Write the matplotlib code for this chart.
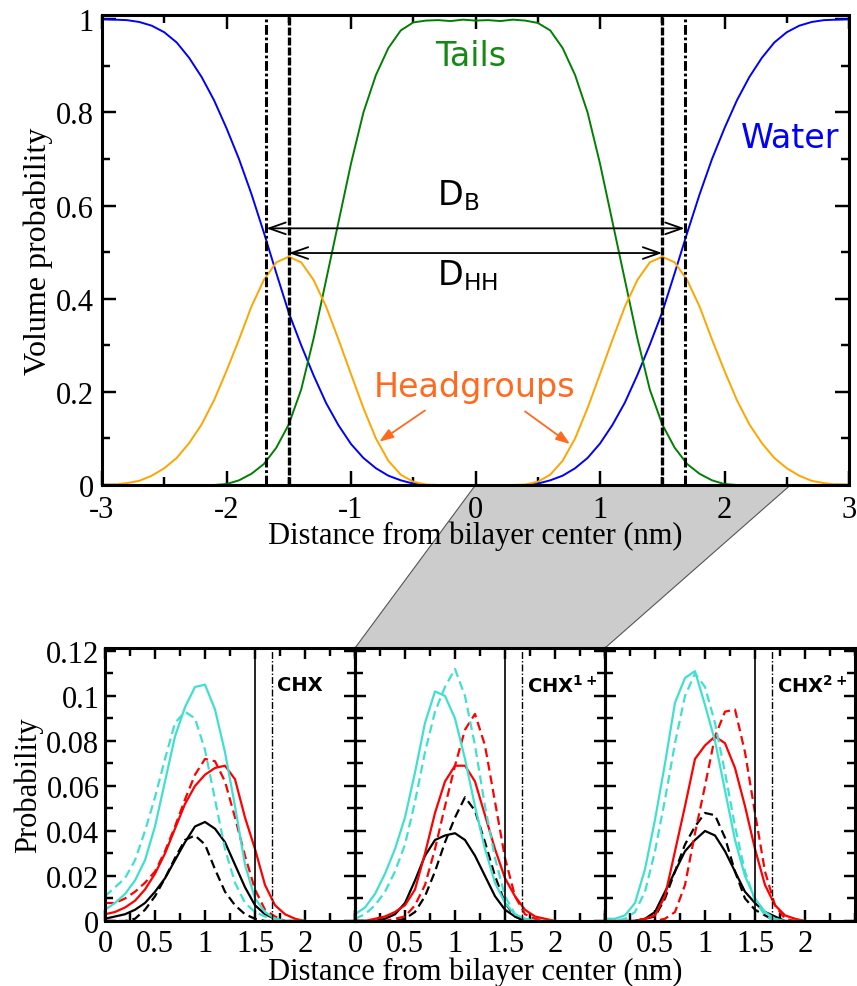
import numpy as np
import matplotlib
matplotlib.use("Agg")
import matplotlib.pyplot as plt
from matplotlib.patches import Polygon
from matplotlib.ticker import MultipleLocator, FuncFormatter

plt.rcParams["font.family"] = ["Liberation Serif", "DejaVu Serif"]
plt.rcParams["mathtext.fontset"] = "dejavusans"
plt.rcParams["axes.unicode_minus"] = False

# ---------------- density profile across the bilayer ----------------
x_profile = np.round(np.arange(-30, 31) * 0.1, 1)

water = [1.000, 0.999, 0.998, 0.994, 0.986, 0.972, 0.950, 0.917, 0.876, 0.826,
         0.766, 0.700, 0.625, 0.542, 0.455, 0.370, 0.300, 0.235, 0.176, 0.128,
         0.088, 0.058, 0.036, 0.020, 0.010, 0.003, 0.000, 0.000, 0.000, 0.000,
         0.000,
         0.000, 0.000, 0.000, 0.000, 0.003, 0.010, 0.020, 0.036, 0.058, 0.089,
         0.129, 0.177, 0.236, 0.301, 0.371, 0.455, 0.541, 0.624, 0.700, 0.766,
         0.826, 0.876, 0.917, 0.950, 0.972, 0.986, 0.994, 0.998, 0.999, 1.000]

tails = [0.000, 0.000, 0.000, 0.000, 0.000, 0.000, 0.000, 0.000, 0.000, 0.000,
         0.002, 0.010, 0.024, 0.045, 0.080, 0.130, 0.205, 0.315, 0.440, 0.565,
         0.690, 0.800, 0.880, 0.938, 0.976, 0.993, 0.997, 0.998, 0.996, 0.999,
         0.997,
         0.998, 0.996, 0.999, 0.997, 0.992, 0.976, 0.938, 0.880, 0.800, 0.690,
         0.565, 0.440, 0.315, 0.205, 0.130, 0.080, 0.045, 0.024, 0.010, 0.002,
         0.000, 0.000, 0.000, 0.000, 0.000, 0.000, 0.000, 0.000, 0.000, 0.000]

headgroups = [0.000, 0.001, 0.004, 0.009, 0.020, 0.036, 0.058, 0.090, 0.130, 0.182,
              0.245, 0.312, 0.383, 0.440, 0.478, 0.490, 0.478, 0.440, 0.383, 0.312,
              0.238, 0.165, 0.100, 0.052, 0.022, 0.007, 0.001, 0.000, 0.000, 0.000,
              0.000,
              0.000, 0.000, 0.000, 0.001, 0.007, 0.022, 0.052, 0.100, 0.165, 0.238,
              0.312, 0.383, 0.440, 0.478, 0.490, 0.478, 0.440, 0.383, 0.312, 0.245,
              0.182, 0.130, 0.090, 0.058, 0.036, 0.020, 0.009, 0.004, 0.001, 0.000]

d_hh_half = 1.5     # headgroup peak position (nm)
d_b_half = 1.68     # bilayer boundary (nm)
y_db = 0.551
y_dhh = 0.498

# ---------------- CHX distributions (0 - 2 nm) ----------------
x_zoom = np.round(np.arange(0, 21) * 0.1, 1)

panel_labels = ["CHX", r"CHX$^{\mathbf{1+}}$", r"CHX$^{\mathbf{2+}}$"]

cyan_solid = [
    [0.005, 0.008, 0.012, 0.018, 0.027, 0.042, 0.062, 0.082, 0.095, 0.104, 0.105,
     0.094, 0.075, 0.051, 0.025, 0.010, 0.004, 0.001, 0, 0, 0],
    [0.003, 0.006, 0.012, 0.021, 0.032, 0.046, 0.066, 0.088, 0.102, 0.100, 0.090,
     0.072, 0.051, 0.032, 0.017, 0.008, 0.003, 0.001, 0, 0, 0],
    [0.001, 0.001, 0.0025, 0.008, 0.023, 0.045, 0.070, 0.097, 0.108, 0.111, 0.096,
     0.080, 0.058, 0.036, 0.020, 0.010, 0.004, 0.001, 0, 0, 0],
]
cyan_dash = [
    [0.011, 0.015, 0.019, 0.027, 0.040, 0.055, 0.072, 0.088, 0.093, 0.090, 0.076,
     0.054, 0.032, 0.017, 0.008, 0.004, 0.002, 0.001, 0, 0, 0],
    [0.001, 0.003, 0.007, 0.013, 0.022, 0.034, 0.053, 0.075, 0.093, 0.104, 0.112,
     0.100, 0.078, 0.051, 0.028, 0.011, 0.003, 0.001, 0, 0, 0],
    [0, 0, 0.001, 0.004, 0.013, 0.031, 0.054, 0.079, 0.100, 0.110, 0.104,
     0.088, 0.066, 0.042, 0.022, 0.009, 0.0025, 0, 0, 0, 0],
]
red_solid = [
    [0.003, 0.004, 0.006, 0.009, 0.014, 0.021, 0.030, 0.041, 0.052, 0.060, 0.065,
     0.068, 0.069, 0.063, 0.046, 0.032, 0.016, 0.007, 0.003, 0.001, 0],
    [0, 0, 0.001, 0.002, 0.004, 0.007, 0.014, 0.030, 0.048, 0.062, 0.069,
     0.069, 0.062, 0.047, 0.032, 0.019, 0.011, 0.005, 0.002, 0.001, 0],
    [0, 0, 0, 0, 0.001, 0.0025, 0.011, 0.031, 0.051, 0.072, 0.078,
     0.082, 0.079, 0.068, 0.051, 0.032, 0.016, 0.007, 0.0025, 0.001, 0],
]
red_dash = [
    [0.008, 0.008, 0.010, 0.013, 0.017, 0.022, 0.031, 0.042, 0.054, 0.065, 0.072,
     0.071, 0.062, 0.046, 0.029, 0.014, 0.005, 0.002, 0, 0, 0],
    [0, 0, 0, 0, 0.001, 0.002, 0.007, 0.016, 0.032, 0.051, 0.069,
     0.085, 0.092, 0.078, 0.053, 0.028, 0.011, 0.003, 0.001, 0, 0],
    [0, 0, 0, 0, 0, 0, 0.001, 0.004, 0.016, 0.039, 0.060,
     0.082, 0.093, 0.094, 0.075, 0.048, 0.022, 0.007, 0.001, 0, 0],
]
black_solid = [
    [0.001, 0.002, 0.003, 0.005, 0.008, 0.013, 0.019, 0.027, 0.035, 0.042, 0.044,
     0.041, 0.035, 0.025, 0.015, 0.007, 0.003, 0.001, 0, 0, 0],
    [0, 0, 0, 0.001, 0.003, 0.008, 0.018, 0.029, 0.036, 0.038, 0.039,
     0.036, 0.029, 0.020, 0.011, 0.005, 0.002, 0, 0, 0, 0],
    [0, 0, 0, 0, 0.001, 0.004, 0.013, 0.022, 0.031, 0.036, 0.040,
     0.038, 0.031, 0.022, 0.013, 0.008, 0.004, 0.002, 0, 0, 0],
]
black_dash = [
    [0, 0, 0, 0.001, 0.005, 0.011, 0.019, 0.028, 0.036, 0.038, 0.034,
     0.023, 0.013, 0.007, 0.003, 0.001, 0, 0, 0, 0, 0],
    [0, 0, 0, 0, 0, 0.001, 0.004, 0.011, 0.022, 0.035, 0.046,
     0.055, 0.049, 0.035, 0.020, 0.008, 0.002, 0, 0, 0, 0],
    [0, 0, 0, 0, 0.001, 0.002, 0.010, 0.022, 0.034, 0.042, 0.048,
     0.047, 0.037, 0.022, 0.010, 0.005, 0.0025, 0, 0, 0, 0],
]
hh_line = 1.5
b_line = 1.67

# ---------------- figure ----------------
W, H = 857, 987
fig = plt.figure(figsize=(W / 100, H / 100), dpi=100)

TICK_SIZE = 22
LABEL_SIZE = 22
NOTE_SIZE = 24


def axes_px(left, top, right, bottom):
    return fig.add_axes([left / W, 1 - bottom / H, (right - left) / W, (bottom - top) / H])


def style_axes(ax, spine_lw, major_len, minor_len, size):
    for s in ax.spines.values():
        s.set_linewidth(spine_lw)
    ax.tick_params(which="both", direction="in", top=True, right=True,
                   width=spine_lw * 0.8, labelsize=size, pad=4)
    ax.tick_params(which="major", length=major_len)
    ax.tick_params(which="minor", length=minor_len)
    ax.set_facecolor("none")


fmt = FuncFormatter(lambda v, p: "%g" % v)

# top panel
ax = axes_px(102, 16, 849, 486)
ax.plot(x_profile, water, color="#0000FF", lw=1.4)
ax.plot(x_profile, tails, color="#008000", lw=1.4)
ax.plot(x_profile, headgroups, color="#FFA500", lw=1.4)
for s in (-1, 1):
    ax.axvline(s * d_hh_half, color="black", lw=2.4, ls=(0, (2.4, 0.6)))
    ax.axvline(s * d_b_half, color="black", lw=2.2, ls=(0, (3.2, 0.9, 0.9, 0.9)))
for yv, half in ((y_db, d_b_half), (y_dhh, d_hh_half)):
    ax.annotate("", xy=(half, yv), xytext=(-half, yv),
                arrowprops=dict(arrowstyle="<->,head_length=1.0,head_width=0.35",
                                mutation_scale=12, lw=1.3, color="black",
                                shrinkA=0, shrinkB=0))
ax.text(-0.31, 0.624, r"D$_\mathregular{B}$", fontsize=NOTE_SIZE, family="DejaVu Sans",
        ha="left", va="center")
ax.text(-0.31, 0.452, r"D$_\mathregular{HH}$", fontsize=NOTE_SIZE, family="DejaVu Sans",
        ha="left", va="center")
ax.text(-0.04, 0.921, "Tails", fontsize=NOTE_SIZE, family="DejaVu Sans", color="#148a14",
        ha="center", va="center")
ax.text(2.526, 0.747, "Water", fontsize=NOTE_SIZE, family="DejaVu Sans", color="#0000FF",
        ha="center", va="center")
hg_color = "#FF6A1F"
ax.text(-0.01, 0.212, "Headgroups", fontsize=NOTE_SIZE, family="DejaVu Sans",
        color=hg_color, ha="center", va="center")
for tail, head in (((-0.406, 0.160), (-0.773, 0.093)), ((0.398, 0.158), (0.759, 0.088))):
    ax.annotate("", xy=head, xytext=tail,
                arrowprops=dict(arrowstyle="-|>,head_length=0.7,head_width=0.25",
                                mutation_scale=12, lw=1.3, color=hg_color,
                                shrinkA=0, shrinkB=0))
ax.set_xlim(-3, 3)
ax.set_ylim(0, 1.009)
ax.xaxis.set_major_locator(MultipleLocator(1))
ax.xaxis.set_minor_locator(MultipleLocator(0.5))
ax.yaxis.set_major_locator(MultipleLocator(0.2))
ax.yaxis.set_minor_locator(MultipleLocator(0.1))
ax.xaxis.set_major_formatter(fmt)
ax.yaxis.set_major_formatter(fmt)
style_axes(ax, 2.2, 10, 6, TICK_SIZE)
ax.tick_params(axis="x", pad=7)
ax.tick_params(axis="y", pad=6)
ax.set_xlabel("Distance from bilayer center (nm)", fontsize=LABEL_SIZE, labelpad=-2)
ax.set_ylabel("Volume probability", fontsize=23, labelpad=2)
ax_top = ax

# bottom panels
bottom_axes = []
lefts = [105, 355, 605]
dash = (0, (4, 2.2))
for i, left in enumerate(lefts):
    bx = axes_px(left, 649, left + 250, 922)
    bx.plot(x_zoom, black_solid[i], color="black", lw=1.6)
    bx.plot(x_zoom, black_dash[i], color="black", lw=1.6, ls=dash)
    bx.plot(x_zoom, red_solid[i], color="#FF0000", lw=1.6)
    bx.plot(x_zoom, red_dash[i], color="#FF0000", lw=1.6, ls=dash)
    bx.plot(x_zoom, cyan_solid[i], color="#40E0D0", lw=1.6)
    bx.plot(x_zoom, cyan_dash[i], color="#40E0D0", lw=1.6, ls=dash)
    bx.axvline(hh_line, color="black", lw=1.2)
    bx.axvline(b_line, color="black", lw=1.0, ls=(0, (5, 1.5, 1, 1.5)))
    bx.text(1.72, 0.105, panel_labels[i], fontsize=14, family="DejaVu Sans",
            fontweight="bold", ha="left", va="center")
    bx.set_xlim(0, 2.5)
    bx.set_ylim(0, 0.1213)
    bx.set_xticks([0, 0.5, 1, 1.5, 2])
    bx.xaxis.set_minor_locator(MultipleLocator(0.25))
    bx.yaxis.set_major_locator(MultipleLocator(0.02))
    bx.yaxis.set_minor_locator(MultipleLocator(0.01))
    bx.xaxis.set_major_formatter(fmt)
    bx.yaxis.set_major_formatter(fmt)
    style_axes(bx, 2.2, 8, 6, TICK_SIZE)
    bx.tick_params(axis="x", pad=6)
    if i > 0:
        bx.tick_params(labelleft=False)
    bottom_axes.append(bx)

bottom_axes[0].set_ylabel("Probability", fontsize=LABEL_SIZE, labelpad=2)
fig.text((105 + 855) / 2 / W - 0.005, 1 - 972 / H, "Distance from bilayer center (nm)",
         fontsize=LABEL_SIZE, ha="center", va="center")

# grey wedge linking the 0 - 2.5 nm range to the lower panels
to_fig = fig.transFigure.inverted()
p_tl = to_fig.transform(ax_top.transData.transform((0, 0)))
p_tr = to_fig.transform(ax_top.transData.transform((2.53, 0)))
mid = bottom_axes[1]
p_bl = to_fig.transform(mid.transAxes.transform((0, 1)))
p_br = to_fig.transform(mid.transAxes.transform((1, 1)))
wedge = Polygon([p_tl, p_tr, p_br, p_bl], closed=True, transform=fig.transFigure,
                facecolor="#CCCCCC", edgecolor="#555555", lw=0.8, zorder=-1)
fig.patches.append(wedge)

fig.savefig("out.png", dpi=100)
